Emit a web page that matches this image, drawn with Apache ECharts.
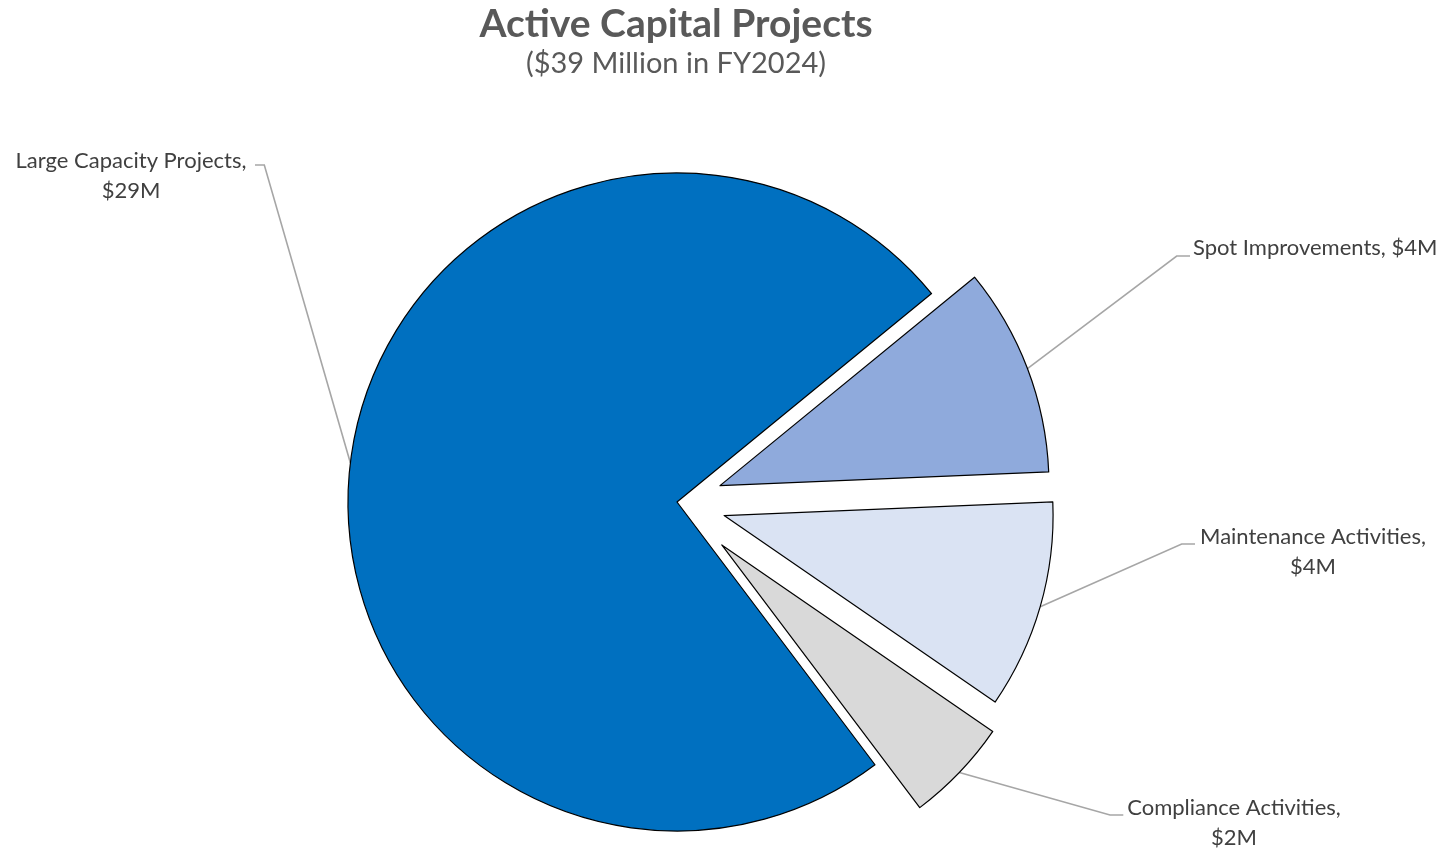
<!DOCTYPE html>
<html><head><meta charset="utf-8">
<script src="https://cdn.jsdelivr.net/npm/echarts@6/dist/echarts.min.js"></script>
<style>html,body{margin:0;padding:0;background:#fff}#c{width:1448px;height:849px}</style>
</head><body><div id="c"></div>
<script>
// ---- data ----
const categories = ['Large Capacity Projects', 'Spot Improvements', 'Maintenance Activities', 'Compliance Activities'];
const values = [29, 4, 4, 2];            // $ millions
const valuePrefix = '$';
const valueSuffix = 'M';
const titleText = 'Active Capital Projects';
const subtitleText = '($39 Million in FY2024)';

// ---- styling / layout ----
const colors = ['#0070C0', '#8FAADC', '#DAE3F3', '#D9D9D9'];
const explode = [0, 46, 49, 62];          // slice explosion in px
const cx = 677, cy = 502, R = 329, startAngle = 307;
const wrapLabel = [true, false, true, true];
const labelAnchors = [
  { x: 131,  y: 176, align: 'center', lineY: 165, p1x: 264.3,  p2x: 255 },
  { x: 1193, y: 248, align: 'left',   lineY: 256, p1x: 1176.7, p2x: 1190 },
  { x: 1313, y: 552, align: 'center', lineY: 544, p1x: 1181.7, p2x: 1195 },
  { x: 1234, y: 823, align: 'center', lineY: 815, p1x: 1110,   p2x: 1123.3 }
];
const FONT = 'Lato, "Open Sans", sans-serif';

const total = values.reduce((a, b) => a + b, 0);
let cum = 0;
const series = categories.map((name, i) => {
  const a0 = startAngle - 360 * cum / total;
  const a1 = a0 - 360 * values[i] / total;
  cum += values[i];
  const mid = (a0 + a1) / 2 * Math.PI / 180;
  const center = [cx + explode[i] * Math.cos(mid), cy - explode[i] * Math.sin(mid)];
  return {
    type: 'pie',
    center: center,
    radius: R,
    startAngle: startAngle,
    clockwise: true,
    silent: true,
    avoidLabelOverlap: false,
    minAngle: 0,
    animation: false,
    emphasis: { disabled: true },
    label: { show: false },
    labelLine: { show: false },
    data: categories.map((n, j) => ({
      name: n,
      value: values[j],
      itemStyle: j === i
        ? { color: colors[j], borderColor: '#000', borderWidth: 1.2 }
        : { color: 'rgba(0,0,0,0)', borderWidth: 0 },
      label: j === i ? {
        show: true,
        position: 'outside',
        formatter: p => p.name + ',' + (wrapLabel[j] ? '\n' : ' ') + valuePrefix + p.value + valueSuffix,
        color: '#404040',
        fontFamily: FONT,
        fontSize: 22,
        lineHeight: 30
      } : { show: false },
      labelLine: j === i ? { show: true, lineStyle: { color: '#A6A6A6', width: 1.6 } } : { show: false }
    })),
    labelLayout: function (p) {
      if (p.dataIndex !== i) return {};
      const a = labelAnchors[i];
      const pts = p.labelLinePoints;
      const out = { x: a.x, y: a.y, align: a.align, verticalAlign: 'middle' };
      if (pts && pts.length) out.labelLinePoints = [pts[0], [a.p1x, a.lineY], [a.p2x, a.lineY]];
      return out;
    }
  };
});

const chart = echarts.init(document.getElementById('c'), null, { renderer: 'canvas' });
chart.setOption({
  backgroundColor: '#fff',
  animation: false,
  title: [
    { text: titleText, left: 676, top: 2, padding: 0, textAlign: 'center',
      textStyle: { fontFamily: FONT, fontWeight: 'bold', fontSize: 39, lineHeight: 44, color: '#595959' } },
    { text: subtitleText, left: 676, top: 47, padding: 0, textAlign: 'center',
      textStyle: { fontFamily: FONT, fontWeight: 'normal', fontSize: 29, lineHeight: 34, color: '#595959' } }
  ],
  series: series
});
</script>
</body></html>
